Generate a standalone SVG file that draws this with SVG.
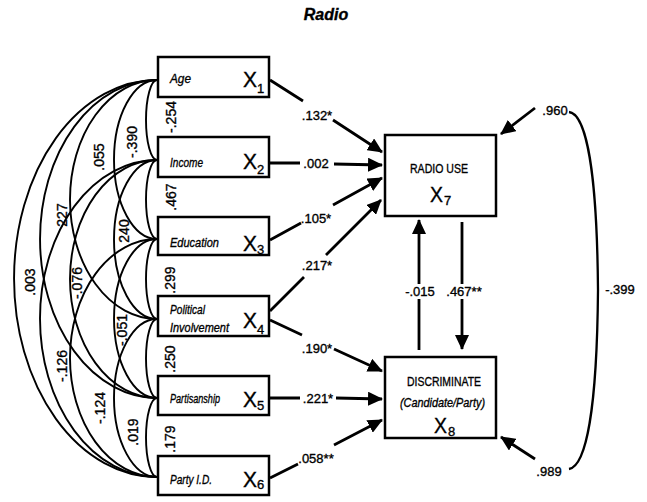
<svg xmlns="http://www.w3.org/2000/svg" width="647" height="502" viewBox="0 0 647 502">
<style>
text{font-family:"Liberation Sans",Arial,sans-serif;fill:#000;stroke:#000;stroke-width:0.35}
.box{fill:#fff;stroke:#000;stroke-width:2.5}
.nm{font-size:13.5px;font-style:italic}
.xv{font-size:22px}
.sb{font-size:13px}
.arc{fill:none;stroke:#000;stroke-width:1.9}
.ar{fill:none;stroke:#000;stroke-width:2.8}
.lb{font-size:14px;text-anchor:middle}
.al{font-size:13px;text-anchor:middle}
</style>
<defs>
<marker id="ah" markerUnits="userSpaceOnUse" markerWidth="16" markerHeight="14" refX="14" refY="7" orient="auto">
<path d="M0,0 L15,7 L0,14 z" fill="#000"/>
</marker>
</defs>
<text x="326" y="20" font-size="16" font-weight="bold" font-style="italic" text-anchor="middle">Radio</text>

<g id="correlations">
<path class="arc" d="M157,80 A11,40 0 0 0 157,160"/>
<path class="arc" d="M157,160 A11,39.5 0 0 0 157,239"/>
<path class="arc" d="M157,239 A11,40 0 0 0 157,319"/>
<path class="arc" d="M157,319 A11,39.5 0 0 0 157,398"/>
<path class="arc" d="M157,398 A11,39.5 0 0 0 157,477"/>
<path class="arc" d="M157,80 A43,79.5 0 0 0 157,239"/>
<path class="arc" d="M157,160 A43,79.5 0 0 0 157,319"/>
<path class="arc" d="M157,239 A43,79.5 0 0 0 157,398"/>
<path class="arc" d="M157,319 A43,79 0 0 0 157,477"/>
<path class="arc" d="M157,80 A87,119.5 0 0 0 157,319"/>
<path class="arc" d="M157,160 A87,119 0 0 0 157,398"/>
<path class="arc" d="M157,239 A87,119 0 0 0 157,477"/>
<path class="arc" d="M157,80 A117,159 0 0 0 157,398"/>
<path class="arc" d="M157,160 A117,158.5 0 0 0 157,477"/>
<path class="arc" d="M157,80 A143,198.5 0 0 0 157,477"/>
<g class="lb">
<text transform="translate(171,117) rotate(-90)" dy="0.35em">-.254</text>
<text transform="translate(171,197) rotate(-90)" dy="0.35em">.467</text>
<text transform="translate(170,280) rotate(-90)" dy="0.35em">.299</text>
<text transform="translate(170,359) rotate(-90)" dy="0.35em">.250</text>
<text transform="translate(170,439) rotate(-90)" dy="0.35em">.179</text>
<text transform="translate(132,142) rotate(-90)" dy="0.35em">-.390</text>
<text transform="translate(124,231) rotate(-90)" dy="0.35em">240</text>
<text transform="translate(122,330) rotate(-90)" dy="0.35em">-.051</text>
<text transform="translate(133,432) rotate(-90)" dy="0.35em">.019</text>
<text transform="translate(99,157) rotate(-90)" dy="0.35em">.055</text>
<text transform="translate(77,283) rotate(-90)" dy="0.35em">-.076</text>
<text transform="translate(100,408) rotate(-90)" dy="0.35em">-.124</text>
<text transform="translate(62,215) rotate(-90)" dy="0.35em">227</text>
<text transform="translate(62,366) rotate(-90)" dy="0.35em">-.126</text>
<text transform="translate(30,282) rotate(-90)" dy="0.35em">.003</text>
</g>
</g>

<g id="x1"><rect class="box" x="158" y="57" width="111" height="40"/>
<text class="nm" x="170" y="83" textLength="21" lengthAdjust="spacingAndGlyphs">Age</text>
<text class="xv" x="243" y="87" textLength="14" lengthAdjust="spacingAndGlyphs">X</text><text class="sb" x="257" y="93">1</text></g>
<g id="x2"><rect class="box" x="158" y="137" width="111" height="40"/>
<text class="nm" x="170" y="167" textLength="33" lengthAdjust="spacingAndGlyphs">Income</text>
<text class="xv" x="243" y="169" textLength="14" lengthAdjust="spacingAndGlyphs">X</text><text class="sb" x="257" y="174">2</text></g>
<g id="x3"><rect class="box" x="158" y="217" width="111" height="38"/>
<text class="nm" x="170" y="247" textLength="49" lengthAdjust="spacingAndGlyphs">Education</text>
<text class="xv" x="243" y="251" textLength="14" lengthAdjust="spacingAndGlyphs">X</text><text class="sb" x="257" y="254">3</text></g>
<g id="x4"><rect class="box" x="158" y="296" width="111" height="40"/>
<text class="nm" x="170" y="314" textLength="35" lengthAdjust="spacingAndGlyphs">Political</text>
<text class="nm" x="170" y="332" textLength="59" lengthAdjust="spacingAndGlyphs">Involvement</text>
<text class="xv" x="243" y="328" textLength="14" lengthAdjust="spacingAndGlyphs">X</text><text class="sb" x="257" y="334">4</text></g>
<g id="x5"><rect class="box" x="158" y="376" width="111" height="39"/>
<text class="nm" x="170" y="403" textLength="50" lengthAdjust="spacingAndGlyphs">Partisanship</text>
<text class="xv" x="243" y="407" textLength="14" lengthAdjust="spacingAndGlyphs">X</text><text class="sb" x="257" y="410">5</text></g>
<g id="x6"><rect class="box" x="158" y="456" width="111" height="39"/>
<text class="nm" x="170" y="484" textLength="42" lengthAdjust="spacingAndGlyphs">Party I.D.</text>
<text class="xv" x="243" y="487" textLength="14" lengthAdjust="spacingAndGlyphs">X</text><text class="sb" x="257" y="489">6</text></g>

<g id="x7"><rect class="box" x="385" y="135" width="111" height="81"/>
<text x="410" y="173" font-size="13.5" textLength="58" lengthAdjust="spacingAndGlyphs">RADIO USE</text>
<text class="xv" x="430" y="202" textLength="13" lengthAdjust="spacingAndGlyphs">X</text><text class="sb" x="444" y="205">7</text></g>
<g id="x8"><rect class="box" x="385" y="357" width="111" height="81"/>
<text x="407" y="386" font-size="13.5" textLength="74" lengthAdjust="spacingAndGlyphs">DISCRIMINATE</text>
<text x="400" y="407" font-size="13" font-style="italic" textLength="85" lengthAdjust="spacingAndGlyphs">(Candidate/Party)</text>
<text class="xv" x="434" y="433" textLength="13" lengthAdjust="spacingAndGlyphs">X</text><text class="sb" x="448" y="436">8</text></g>

<g id="paths">
<path class="ar" marker-end="url(#ah)" d="M270,80 L303,101 M333,120 L382,152"/>
<path class="ar" marker-end="url(#ah)" d="M270,163 L300,163 M334,164 L382,165"/>
<path class="ar" marker-end="url(#ah)" d="M270,240 L301,223 M333,205 L382,178"/>
<path class="ar" marker-end="url(#ah)" d="M270,311 L304,277 M326,255 L381,200"/>
<path class="ar" marker-end="url(#ah)" d="M270,320 L302,335 M334,349 L382,371"/>
<path class="ar" marker-end="url(#ah)" d="M270,398 L300,398 M336,398 L382,399"/>
<path class="ar" marker-end="url(#ah)" d="M270,478 L298,464 M334,445 L382,420"/>
<path class="ar" marker-end="url(#ah)" d="M419,350 L419,299 M419,284 L419,220"/>
<path class="ar" marker-end="url(#ah)" d="M462,222 L462,284 M462,299 L462,349"/>
<path class="ar" marker-end="url(#ah)" d="M535,108 L501,134"/>
<path class="ar" marker-end="url(#ah)" d="M535,459 L501,437"/>
<path fill="none" stroke="#000" stroke-width="2.3" d="M569,112 C586,114 597,170 598,290 C597,410 586,466 569,469"/>
<g class="al">
<text x="317" y="120">.132*</text>
<text x="316" y="168">.002</text>
<text x="316" y="223">.105*</text>
<text x="317" y="270">.217*</text>
<text x="317" y="353">.190*</text>
<text x="318" y="403">.221*</text>
<text x="316" y="463">.058**</text>
<text x="420" y="296">-.015</text>
<text x="464" y="296">.467**</text>
<text x="555" y="115">.960</text>
<text x="620" y="294">-.399</text>
<text x="549" y="476">.989</text>
</g>
</g>
</svg>
